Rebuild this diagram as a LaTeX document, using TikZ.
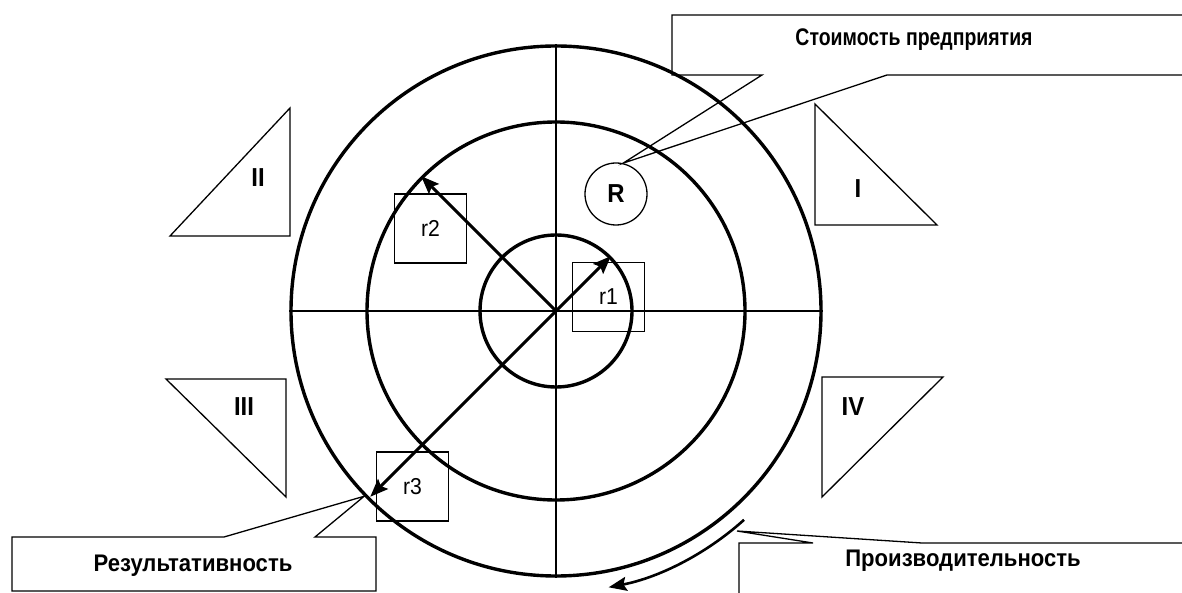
\documentclass[tikz,border=0pt]{standalone}
\usepackage{fontspec}
\setmainfont[FakeStretch=0.92]{Liberation Sans}
\newfontfamily\narrowsans[FakeStretch=0.81]{Liberation Sans}
\usetikzlibrary{arrows.meta, positioning, calc}

\begin{document}
\begin{tikzpicture}[x=1pt, y=1pt,
    ring/.style={draw, circle, line width=3.4pt, minimum size=#1, inner sep=0pt},
    rbox/.style={draw, line width=1.3pt, minimum width=72pt, minimum height=69pt, inner sep=0pt, font=\fontsize{23}{27}\selectfont},
    thinline/.style={line width=1.3pt},
    numlab/.style={font=\bfseries\fontsize{26}{30}\selectfont},
    caplab/.style={font=\bfseries\fontsize{24}{28}\selectfont},
    ray/.style={-{Stealth[length=18pt, width=14pt, inset=3pt]}, line width=3pt}]
  \useasboundingbox (0,0) rectangle (1182,592);
  % rings and axes
  \coordinate (o) at (556,281);
  \node[ring=530pt] (outer) at (o) {};
  \node[ring=378pt] (middle) at (o) {};
  \node[ring=152pt] (inner) at (o) {};
  \draw[thinline] (outer.west) -- (outer.east);
  \draw[thinline] (outer.north) -- (outer.south);
  % boxes
  \node[rbox] (r1) at (608.5,295) {r1};
  \node[rbox] (r2) at (430.5,363.5) {r2};
  \node[rbox] (r3) at (412.5,105.5) {r3};
  \draw[ray] (o) -- (inner.45);
  \draw[ray] (o) -- (middle.135);
  \draw[ray, shorten >=4pt] (o) -- (outer.225);
  \node[draw, circle, thinline, minimum size=62pt, inner sep=0pt, numlab] (rr) at (616,398) {R};
  % quadrant triangles
  \draw[thinline] (170,356) -- (290,356) -- (290,484) -- cycle;
  \draw[thinline] (815,488) -- (815,367) -- (937,367) -- cycle;
  \draw[thinline] (166,213) -- (286,213) -- (286,95) -- cycle;
  \draw[thinline] (822,215) -- (943,215) -- (822,95) -- cycle;
  \node[numlab] (q2) at (258,414) {II};
  \node[numlab] (q1) at (858,403) {I};
  \node[numlab] (q3) at (244,185) {III};
  \node[numlab] (q4) at (853,185) {IV};
  % turning arrow
  \coordinate (turn) at ($(o)+(-48:281)$);
  \draw[ray, line width=2.6pt] (turn) arc[start angle=-48, end angle=-79, radius=283];
  % callouts
  \coordinate (pa) at (737,61);
  \draw[thinline] (1190,517) -- (887,517) -- (rr.77) -- (762,517) -- (672,517) -- (672,577) -- (1190,577);
  \draw[thinline] (376,1) -- (376,55) -- (315,55) -- (outer.224) -- (224,55) -- (12,55) -- (12,1) -- cycle;
  \draw[thinline] (1190,49) -- (922,49) -- (pa) -- (813,49) -- (739,49) -- (739,-10);
  \node[caplab, font=\narrowsans\bfseries\fontsize{24}{28}\selectfont] (valtxt) at (914,552) {Стоимость предприятия};
  \node[caplab] (restxt) at (193,26) {Результативность};
  \node[caplab] (prodtxt) at (963,31) {Производительность};
\end{tikzpicture}
\end{document}
